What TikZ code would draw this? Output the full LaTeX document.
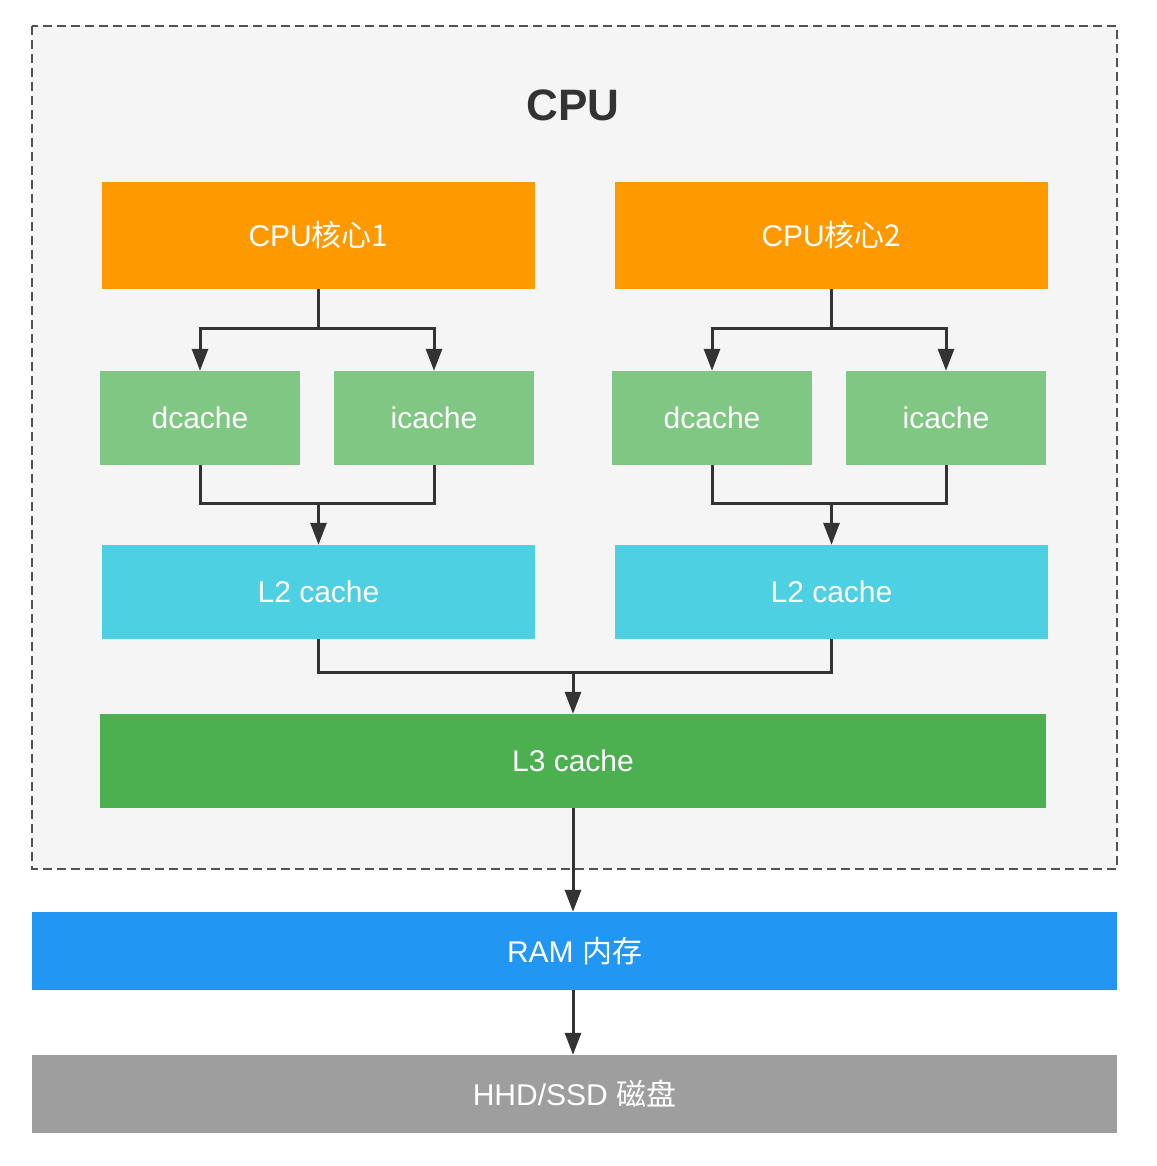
\documentclass[tikz,border=0pt]{standalone}
\usepackage{fontspec}
\setmainfont{Liberation Sans}
\newfontfamily\cjk{Noto Sans CJK SC}
\usetikzlibrary{arrows.meta,calc}
\definecolor{orangeC}{HTML}{FF9900}
\definecolor{lgreen}{HTML}{81C784}
\definecolor{cyanC}{HTML}{4DD0E1}
\definecolor{greenC}{HTML}{4CAF50}
\definecolor{blueC}{HTML}{2196F3}
\definecolor{greyC}{HTML}{9E9E9E}
\definecolor{bgC}{HTML}{F5F5F5}
\definecolor{lineC}{HTML}{333333}
\tikzset{
  blk/.style={inner sep=0pt, text=white, font=\fontsize{30}{34}\selectfont, draw=none},
  conn/.style={draw=lineC, line width=3pt},
  arr/.style={conn, -{Triangle[length=22pt,width=16pt]}},
}
\begin{document}
\begin{tikzpicture}[x=1pt,y=-1pt]
\useasboundingbox (0,0) rectangle (1156,1166);
\fill[white] (0,0) rectangle (1156,1166);
\draw[fill=bgC, draw=lineC!85, line width=1.5pt, dash pattern=on 9pt off 5pt] (32,26) rectangle (1117,869);
\node[font=\bfseries\fontsize{44}{48}\selectfont, text=lineC] (title) at (573,105) {CPU};
\node[blk, fill=orangeC, minimum width=433pt, minimum height=107pt] (c1) at (318.5,235.5) {CPU\cjk{核心}1};
\node[blk, fill=orangeC, minimum width=433pt, minimum height=107pt] (c2) at (831.5,235.5) {CPU\cjk{核心}2};
\node[blk, fill=lgreen, minimum width=200pt, minimum height=94pt] (d1) at (200,418) {dcache};
\node[blk, fill=lgreen, minimum width=200pt, minimum height=94pt] (i1) at (434,418) {icache};
\node[blk, fill=lgreen, minimum width=200pt, minimum height=94pt] (d2) at (712,418) {dcache};
\node[blk, fill=lgreen, minimum width=200pt, minimum height=94pt] (i2) at (946,418) {icache};
\node[blk, fill=cyanC, minimum width=433pt, minimum height=94pt] (l2a) at (318.5,592) {L2 cache};
\node[blk, fill=cyanC, minimum width=433pt, minimum height=94pt] (l2b) at (831.5,592) {L2 cache};
\node[blk, fill=greenC, minimum width=946pt, minimum height=94pt] (l3) at (573,761) {L3 cache};
\node[blk, fill=blueC, minimum width=1085pt, minimum height=78pt] (ram) at (574.5,951) {RAM \cjk{内存}};
\node[blk, fill=greyC, minimum width=1085pt, minimum height=78pt] (hd) at (574.5,1094) {HHD/SSD \cjk{磁盘}};
% core 1 splits
\coordinate (s1) at ($(c1.south)+(0,39)$);
\draw[conn] (c1.south) -- (s1);
\draw[arr] (s1) -| (d1.north);
\draw[arr] (s1) -| (i1.north);
\coordinate (s2) at ($(c2.south)+(0,39)$);
\draw[conn] (c2.south) -- (s2);
\draw[arr] (s2) -| (d2.north);
\draw[arr] (s2) -| (i2.north);
% merges to L2
\coordinate (m1) at ($(l2a.north)+(0,-41)$);
\draw[conn] (d1.south) |- (m1) -| (i1.south);
\draw[arr] (m1) -- (l2a.north);
\coordinate (m2) at ($(l2b.north)+(0,-41)$);
\draw[conn] (d2.south) |- (m2) -| (i2.south);
\draw[arr] (m2) -- (l2b.north);
% L2 to L3
\coordinate (m3) at ($(l3.north)+(0,-41)$);
\draw[conn] (l2a.south) |- (m3) -| (l2b.south);
\draw[arr] (m3) -- (l3.north);
% L3 -> RAM -> disk
\draw[arr] (l3.south) -- (l3.south |- ram.north);
\draw[arr] (l3.south |- ram.south) -- (l3.south |- hd.north);
\end{tikzpicture}
\end{document}
